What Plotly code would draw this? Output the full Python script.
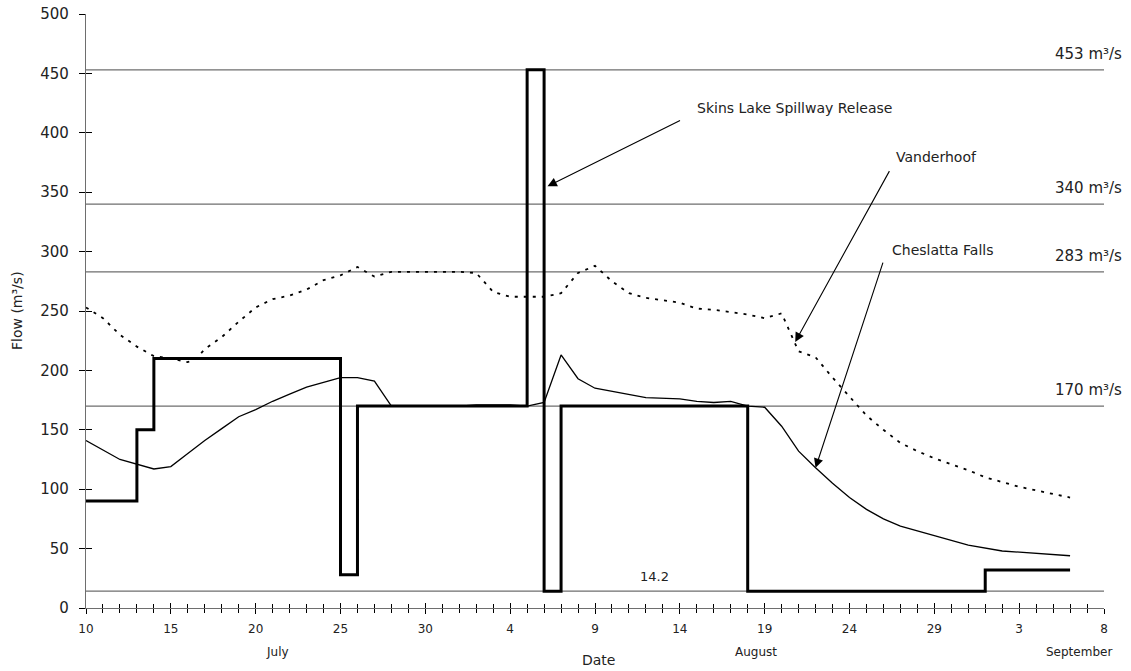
import plotly.graph_objects as go

# ---- data (day index: 0 = 10 July) ----
tick_days = [0, 5, 10, 15, 20, 25, 30, 35, 40, 45, 50, 55, 60]
tick_labels = ["10", "15", "20", "25", "30", "4", "9", "14", "19", "24", "29", "3", "8"]
months = ["July", "August", "September"]
month_pos = [11.3, 39.5, 58.5]

spill_days = [0, 3, 4, 15, 16, 26, 27, 28, 39, 53, 58]
spill_vals = [90, 150, 210, 28, 170, 453, 14.2, 170, 14.2, 32, 32]

ches_days = [0, 2, 4, 5, 6, 7, 8, 9, 10, 11, 12, 13, 14, 15, 16, 17, 18, 20, 22, 23, 25, 26,
             27, 28, 29, 30, 32, 33, 35, 36, 37, 38, 39, 40, 41, 42, 43, 44, 45, 46, 47, 48,
             50, 52, 54, 56, 58]
ches_vals = [141, 125, 117, 119, 130, 141, 151, 161, 167, 174, 180, 186, 190, 194, 194, 191, 170,
             170, 170, 171, 171, 170, 173, 213, 193, 185, 180, 177, 176, 174, 173, 174, 170, 169,
             153, 132, 118, 105, 93, 83, 75, 69, 61, 53, 48, 46, 44]

vand_days = [0, 1, 2, 3, 4, 5, 6, 6.5, 7, 8, 9, 10, 11, 12, 13, 14, 15, 16, 17, 18, 19, 20, 21,
             22, 23, 24, 25, 26, 27, 28, 29, 30, 31, 32, 33, 34, 35, 36, 37, 38, 39, 40, 41, 42,
             43, 44, 45, 46, 47, 48, 49, 50, 51, 52, 53, 54, 55, 56, 57, 58]
vand_vals = [253, 244, 230, 220, 212, 210, 207, 210, 218, 228, 241, 253, 260, 263, 268, 276, 280,
             287, 279, 283, 283, 283, 283, 283, 282, 266, 262, 262, 262, 265, 282, 288, 275, 265,
             261, 259, 257, 252, 251, 249, 247, 244, 248, 216, 211, 194, 178, 162, 150, 139, 132,
             126, 121, 116, 110, 106, 102, 99, 96, 93]

ref_levels = [453, 340, 283, 170, 14.2]
ref_labels = ["453 m³/s", "340 m³/s", "283 m³/s", "170 m³/s", "14.2"]

FONT = "DejaVu Sans"
TXT = "#222"

fig = go.Figure()

for lv in ref_levels:
    fig.add_trace(go.Scatter(x=[0, 60], y=[lv, lv], mode="lines",
                             line=dict(color="#6e6e6e", width=1.2), showlegend=False,
                             hoverinfo="skip"))

fig.add_trace(go.Scatter(x=vand_days, y=vand_vals, mode="lines", name="Vanderhoof",
                         line=dict(color="black", width=1.8, dash="3px,6px"), showlegend=False))
fig.add_trace(go.Scatter(x=ches_days, y=ches_vals, mode="lines", name="Cheslatta Falls",
                         line=dict(color="black", width=1.3), showlegend=False))
fig.add_trace(go.Scatter(x=spill_days, y=spill_vals, mode="lines", line_shape="hv",
                         name="Skins Lake Spillway Release",
                         line=dict(color="black", width=3), showlegend=False))

# reference labels
for lv, lab in zip(ref_levels[:4], ref_labels[:4]):
    fig.add_annotation(x=60, y=lv, xref="x", yref="y", text=lab, showarrow=False,
                       xanchor="right", yanchor="bottom", yshift=5, xshift=20,
                       font=dict(family=FONT, size=15, color=TXT))
fig.add_annotation(x=33.5, y=ref_levels[4], xref="x", yref="y", text=ref_labels[4],
                   showarrow=False, xanchor="center", yanchor="bottom", yshift=5,
                   font=dict(family=FONT, size=13, color=TXT))

# arrow annotations
arrows = [
    ("Skins Lake Spillway Release", 27.2, 355, 35.1, 411, 35.9, 421),
    ("Vanderhoof", 41.8, 224, 47.4, 369, 47.6, 380),
    ("Cheslatta Falls", 43.0, 118, 47.0, 292, 47.4, 301),
]
for text, xa, ya, xt, yt, lx, ly in arrows:
    fig.add_annotation(x=xa, y=ya, ax=xt, ay=yt, xref="x", yref="y", axref="x", ayref="y",
                       text="", showarrow=True, arrowhead=2, arrowsize=1.7, arrowwidth=1.1,
                       arrowcolor="black")
    fig.add_annotation(x=lx, y=ly, xref="x", yref="y", text=text, showarrow=False,
                       xanchor="left", yanchor="middle",
                       font=dict(family=FONT, size=14, color=TXT))

# month labels, axis titles
for m, p in zip(months, month_pos):
    fig.add_annotation(x=p, y=0, xref="x", yref="paper", yshift=-44, text=m, showarrow=False,
                       xanchor="center", yanchor="middle",
                       font=dict(family=FONT, size=12, color=TXT))
fig.add_annotation(x=30.2, y=0, xref="x", yref="paper", yshift=-52, text="Date", showarrow=False,
                   xanchor="center", yanchor="middle", font=dict(family=FONT, size=14, color=TXT))
fig.add_annotation(x=0, y=0.5, xref="paper", yref="paper", xshift=-69, text="Flow (m³/s)",
                   textangle=-90, showarrow=False, xanchor="center", yanchor="middle",
                   font=dict(family=FONT, size=14, color=TXT))

axis_common = dict(showgrid=False, zeroline=False, automargin=False)
fig.update_layout(
    width=1131, height=671,
    margin=dict(l=86, r=27, t=14, b=63),
    plot_bgcolor="white", paper_bgcolor="white",
    font=dict(family=FONT, color=TXT),
    xaxis=dict(range=[0, 60], tickvals=tick_days, ticktext=tick_labels, ticks="outside",
               ticklen=5, tickwidth=1.2, tickcolor="black", showline=True,
               linecolor="#6e6e6e", linewidth=1.2, ticklabelstandoff=4,
               minor=dict(dtick=1, ticks="outside", ticklen=4, tickcolor="black", tickwidth=1),
               tickfont=dict(family=FONT, size=12), **axis_common),
    xaxis2=dict(range=[0, 60], overlaying="x", anchor="y", side="bottom", tickvals=tick_days,
                showticklabels=False, ticks="inside", ticklen=5, tickwidth=1.2,
                tickcolor="black",
                minor=dict(dtick=1, ticks="inside", ticklen=4, tickcolor="black", tickwidth=1),
                showline=False, **axis_common),
    yaxis=dict(range=[0, 500], dtick=50, ticks="outside", ticklen=6, tickcolor="black",
               tickwidth=1, showline=True, linecolor="#6e6e6e", linewidth=1.2,
               ticklabelstandoff=7, tickfont=dict(family=FONT, size=15), **axis_common),
    yaxis2=dict(range=[0, 500], dtick=50, overlaying="y", anchor="x", side="left",
                showticklabels=False, ticks="inside", ticklen=6, tickcolor="black",
                tickwidth=1, showline=False, **axis_common),
)
# invisible trace to activate overlay axes
fig.add_trace(go.Scatter(x=[0], y=[0], xaxis="x2", yaxis="y2", mode="markers",
                         marker=dict(opacity=0), showlegend=False, hoverinfo="skip"))

fig.write_html("out.html", config={"displayModeBar": False},
               post_script="document.body.style.margin='0';document.body.style.overflow='hidden';")
